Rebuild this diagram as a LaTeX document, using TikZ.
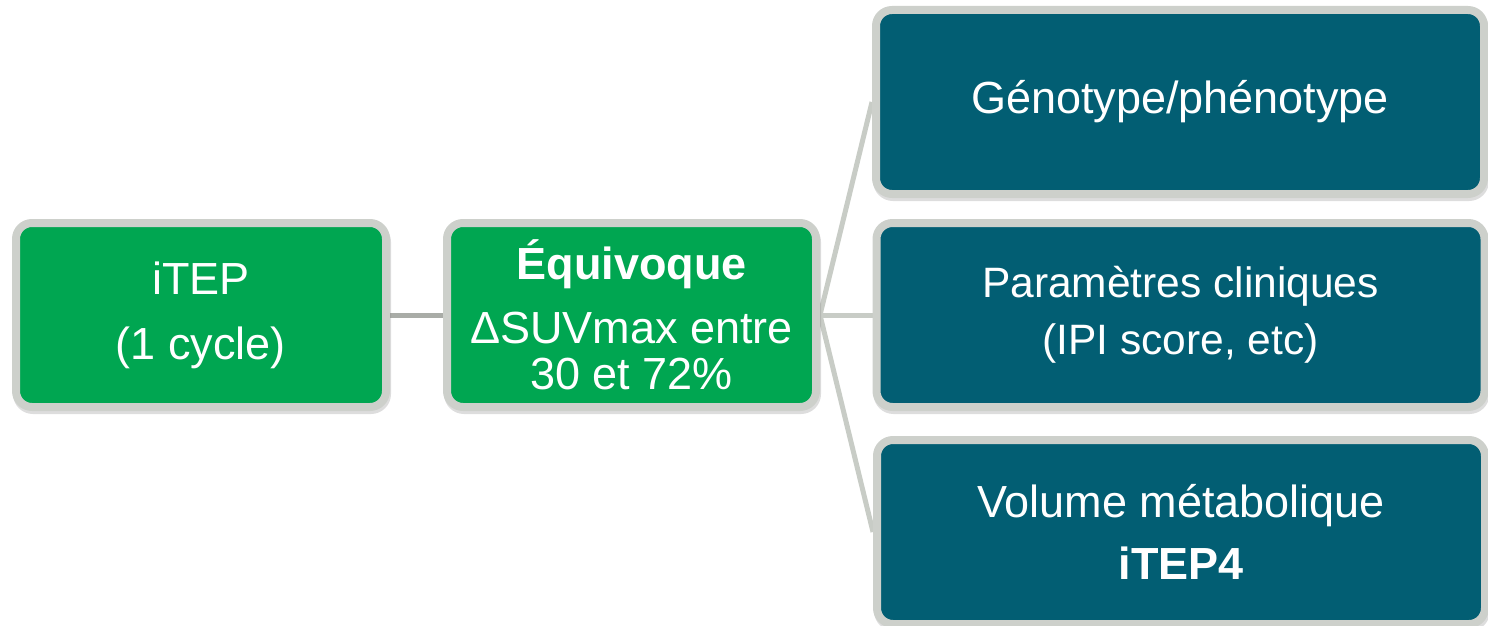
\documentclass[tikz,border=0pt]{standalone}
\usepackage{fontspec}
\setmainfont{Liberation Sans}
\usetikzlibrary{backgrounds,shadows}
\definecolor{boxgreen}{HTML}{00A651}
\definecolor{boxteal}{HTML}{025E73}
\definecolor{rimgray}{HTML}{CDD0CB}
\definecolor{linkgray}{HTML}{C8CCC6}
\definecolor{linkdark}{HTML}{A9ACA7}
\begin{document}
\begin{tikzpicture}[x=1pt,y=-1pt,
 card/.style={rectangle, rounded corners=16pt, draw=rimgray, line width=8pt, inner sep=0pt,
   text=white, align=center, minimum height=184pt,
   drop shadow={shadow xshift=1pt, shadow yshift=-3pt, opacity=.22, fill=none, draw=black!60, line width=8pt}},
 greencard/.style={card, fill=boxgreen, minimum width=370pt},
 tealcard/.style={card, fill=boxteal, minimum width=608pt},
 link/.style={draw=linkgray, line width=5pt}]
\useasboundingbox (0,0) rectangle (1488,626);
\node[greencard, font=\fontsize{45}{65}\selectfont] (itep) at (201,315) {iTEP\\(1 cycle)};
\node[greencard, minimum width=369pt, font=\fontsize{45}{46}\selectfont] (equiv) at (631.5,315)
  {\textbf{Équivoque}\\[18pt]ΔSUVmax entre\\30 et 72\%};
\node[tealcard, font=\fontsize{45}{57}\selectfont] (geno) at (1180,102) {Génotype/phénotype};
\node[tealcard, font=\fontsize{42.5}{57}\selectfont] (param) at (1180.5,315) {Paramètres cliniques\\(IPI score, etc)};
\node[tealcard, font=\fontsize{45}{62}\selectfont] (volume) at (1181,532) {Volume métabolique\\\textbf{iTEP4}};
\begin{scope}[on background layer]
\draw[link, draw=linkdark] (itep.east) -- (equiv.west);
\draw[link] (equiv.east) -- (geno.west);
\draw[link] (equiv.east) -- (param.west);
\draw[link] (equiv.east) -- (volume.west);
\end{scope}
\end{tikzpicture}
\end{document}
